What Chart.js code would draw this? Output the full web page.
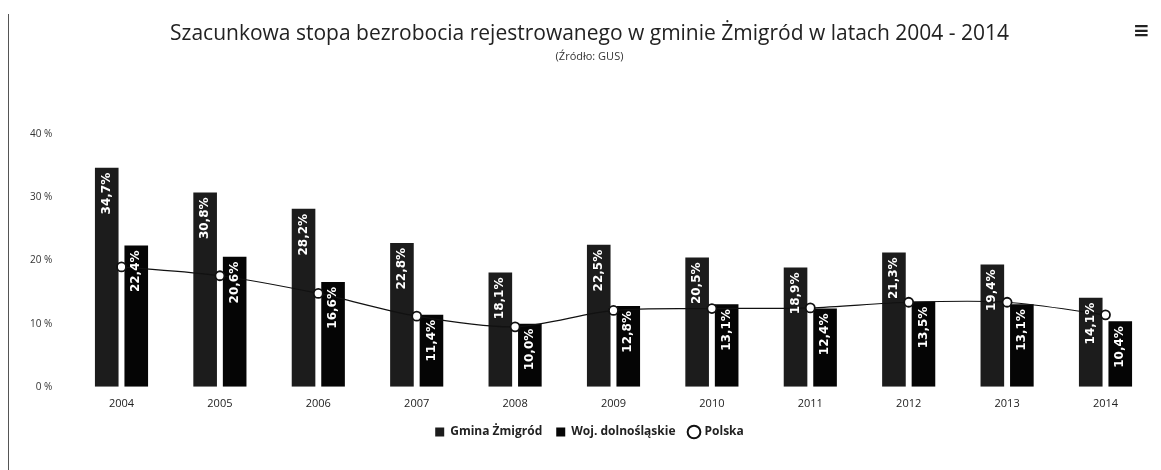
<!DOCTYPE html>
<html><head><meta charset="utf-8">
<script src="https://cdn.jsdelivr.net/npm/chart.js@4/dist/chart.umd.min.js"></script>
<style>
html,body{margin:0;padding:0;background:#fff;}
#wrap{position:relative;width:1161px;height:470px;}
#menu{position:absolute;left:1133px;top:18px;font:bold 20px "DejaVu Sans";color:#222;}
#frame{position:absolute;left:8px;top:14px;width:1px;height:456px;background:#555;}
</style></head>
<body><div id="wrap"><div id="frame"></div><canvas id="c" width="1161" height="470"></canvas><div id="menu">&#8801;</div></div>
<script>
const categories = ['2004','2005','2006','2007','2008','2009','2010','2011','2012','2013','2014'];
const gminaZmigrod = [34.7, 30.8, 28.2, 22.8, 18.1, 22.5, 20.5, 18.9, 21.3, 19.4, 14.1];
const wojDolnoslaskie = [22.4, 20.6, 16.6, 11.4, 10.0, 12.8, 13.1, 12.4, 13.5, 13.1, 10.4];
const polska = [19.0, 17.6, 14.8, 11.2, 9.5, 12.1, 12.4, 12.5, 13.4, 13.4, 11.4];
const yTicks = [0, 10, 20, 30, 40];

const fmt = v => v.toFixed(1).replace('.', ',') + '%';

const barLabels = {
  id: 'barLabels',
  afterDatasetsDraw(chart) {
    const ctx = chart.ctx;
    [1, 2].forEach(di => {
      const meta = chart.getDatasetMeta(di);
      const data = chart.data.datasets[di].data;
      meta.data.forEach((bar, i) => {
        ctx.save();
        ctx.translate(bar.x, bar.y + 5);
        ctx.rotate(-Math.PI / 2);
        ctx.font = 'bold 12px "DejaVu Sans"';
        ctx.fillStyle = '#fff';
        ctx.textAlign = 'right';
        ctx.textBaseline = 'middle';
        ctx.fillText(fmt(data[i]), 0, 0);
        ctx.restore();
      });
    });
  }
};

new Chart(document.getElementById('c'), {
  data: {
    labels: categories,
    datasets: [
      { type: 'line', label: 'Polska', data: polska, borderColor: '#111', borderWidth: 1.2,
        backgroundColor: '#fff', pointBackgroundColor: '#fff', pointBorderColor: '#111',
        pointBorderWidth: 1.8, pointRadius: 4.5, tension: 0.3, order: 0, pointStyle: 'circle' },
      { type: 'bar', label: 'Gmina Żmigród', data: gminaZmigrod, backgroundColor: '#1c1c1c',
        categoryPercentage: 0.6, barPercentage: 0.8, order: 1 },
      { type: 'bar', label: 'Woj. dolnośląskie', data: wojDolnoslaskie, backgroundColor: '#050505',
        categoryPercentage: 0.6, barPercentage: 0.8, order: 1 }
    ]
  },
  options: {
    responsive: false,
    animation: false,
    layout: { padding: { left: 18, right: 0, top: 8, bottom: 22 } },
    plugins: {
      title: { display: true, text: 'Szacunkowa stopa bezrobocia rejestrowanego w gminie Żmigród w latach 2004 - 2014',
        font: { family: 'Open Sans', size: 21, weight: 'normal' }, color: '#222', padding: { top: 13, bottom: 4 } },
      subtitle: { display: true, text: '(Źródło: GUS)', font: { family: 'Open Sans', size: 11 }, color: '#333',
        padding: { bottom: 71 } },
      legend: { position: 'bottom',
        labels: { usePointStyle: true, boxWidth: 9, boxHeight: 9, padding: 14, color: '#222',
          font: { family: 'Open Sans', size: 12, weight: 'bold' },
          sort: (a, b) => (a.datasetIndex === 0 ? 1 : 0) - (b.datasetIndex === 0 ? 1 : 0),
          generateLabels(chart) {
            const items = Chart.defaults.plugins.legend.labels.generateLabels(chart);
            items.forEach(it => {
              if (it.datasetIndex === 0) { it.pointStyle = 'circle'; it.fillStyle = '#fff'; it.strokeStyle = '#111'; it.lineWidth = 2; }
              else { it.pointStyle = 'rect'; }
            });
            return items;
          } } },
      tooltip: { enabled: false }
    },
    scales: {
      x: { grid: { display: false }, border: { display: false },
        ticks: { color: '#222', font: { family: 'Open Sans', size: 11 }, padding: 2 } },
      y: { min: 0, max: 40, grid: { display: false }, border: { display: false },
        afterBuildTicks: axis => { axis.ticks = yTicks.map(v => ({ value: v })); },
        ticks: { color: '#333', font: { family: 'Open Sans', size: 10 }, padding: 12,
          callback: v => v + ' %' } }
    }
  },
  plugins: [barLabels]
});
</script>
</body></html>
